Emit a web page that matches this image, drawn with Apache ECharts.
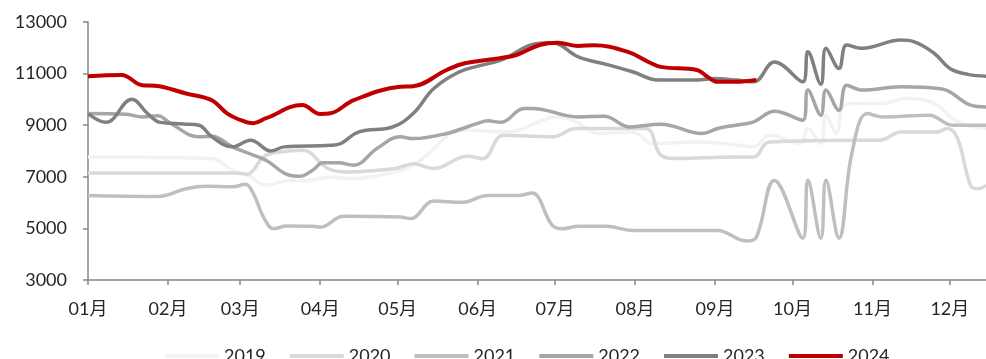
<!DOCTYPE html>
<html>
<head>
<meta charset="utf-8">
<script src="https://cdn.jsdelivr.net/npm/echarts@6/dist/echarts.min.js"></script>
<style>
  html, body { margin: 0; padding: 0; background: #fff; }
  #chart { width: 986px; height: 359px; }
</style>
</head>
<body>
<div id="chart"></div>
<script>
// Seasonal comparison: one line per year on a shared Jan–Dec axis (dates as MM-DD).
const years = ['2019', '2020', '2021', '2022', '2023', '2024'];
const yTicks = { min: 3000, max: 13000, step: 2000 };

const s2019 = [
  ['01-01', 7770], ['02-18', 7710], ['02-26', 7250], ['03-04', 7060], ['03-11', 6670],
  ['03-20', 6860], ['03-27', 6860], ['04-05', 6990], ['04-12', 6930], ['04-30', 7190],
  ['05-08', 7510], ['05-27', 8810], ['06-12', 8740], ['06-28', 9260], ['06-30', 9320],
  ['07-08', 9190], ['07-18', 8680], ['07-31', 8740], ['08-08', 8290], ['08-25', 8350],
  ['09-08', 8250], ['09-16', 8160], ['09-22', 8610], ['10-04', 8290], ['10-07', 8870],
  ['10-12', 8290], ['10-14', 9390], ['10-18', 8680], ['10-21', 9780], ['10-27', 9840],
  ['11-05', 9840], ['11-14', 10040], ['11-25', 9840], ['12-04', 9130], ['12-15', 8870]
];
const s2020 = [
  ['01-01', 7150], ['02-26', 7150], ['03-04', 7100], ['03-06', 7250], ['03-10', 7770],
  ['03-14', 7930], ['03-25', 8030], ['04-04', 7320], ['04-11', 7190], ['04-30', 7320],
  ['05-07', 7510], ['05-15', 7320], ['05-28', 7800], ['06-03', 7700], ['06-11', 8610],
  ['06-30', 8550], ['07-09', 8870], ['08-05', 8870], ['08-11', 7840], ['08-17', 7710],
  ['09-08', 7770], ['09-16', 7770], ['09-22', 8350], ['10-27', 8420], ['11-04', 8420],
  ['11-12', 8740], ['11-26', 8740], ['11-30', 8870], ['12-04', 8480], ['12-09', 6670],
  ['12-12', 6540], ['12-15', 6670]
];
const s2021 = [
  ['01-01', 6280], ['01-28', 6240], ['02-08', 6540], ['02-16', 6630], ['02-26', 6610],
  ['03-03', 6710], ['03-06', 6370], ['03-10', 5440], ['03-14', 4990], ['03-19', 5090],
  ['03-29', 5080], ['04-01', 5050], ['04-10', 5470], ['05-02', 5440], ['05-06', 5380],
  ['05-15', 6060], ['05-26', 6010], ['06-05', 6280], ['06-17', 6280], ['06-22', 6370],
  ['06-30', 5110], ['07-04', 4990], ['07-10', 5080], ['07-21', 5080], ['07-31', 4920],
  ['09-02', 4920], ['09-13', 4510], ['09-17', 4660], ['09-24', 6860], ['10-05', 4620],
  ['10-07', 6870], ['10-12', 4620], ['10-14', 6870], ['10-19', 4620], ['10-24', 7900],
  ['10-30', 9450], ['11-05', 9320], ['11-23', 9390], ['12-02', 9000], ['12-15', 9000]
];
const s2022 = [
  ['01-01', 9450], ['01-16', 9420], ['01-22', 9320], ['01-28', 9370], ['02-02', 9070],
  ['02-13', 8550], ['02-18', 8570], ['02-26', 8160], ['03-06', 7840], ['03-11', 7640],
  ['03-20', 7060], ['03-24', 7020], ['03-29', 7250], ['04-02', 7540], ['04-08', 7540],
  ['04-14', 7450], ['04-23', 8100], ['05-02', 8550], ['05-07', 8480], ['05-20', 8680],
  ['06-01', 9070], ['06-05', 9170], ['06-10', 9110], ['06-19', 9650], ['06-22', 9650],
  ['07-10', 9320], ['07-20', 9350], ['07-30', 8930], ['08-11', 9040], ['08-27', 8680],
  ['09-02', 8870], ['09-09', 9000], ['09-16', 9130], ['09-24', 9540], ['10-05', 9190],
  ['10-07', 10360], ['10-12', 9390], ['10-14', 10360], ['10-19', 9580], ['10-22', 10550],
  ['10-28', 10360], ['11-12', 10490], ['11-28', 10400], ['12-09', 9780], ['12-15', 9710]
];
const s2023 = [
  ['01-01', 9450], ['01-08', 9110], ['01-18', 10010], ['01-24', 9460], ['01-29', 9110],
  ['02-07', 9050], ['02-13', 9000], ['02-18', 8550], ['02-26', 8160], ['03-05', 8420],
  ['03-13', 8000], ['03-18', 8160], ['04-05', 8220], ['04-09', 8290], ['04-16', 8740],
  ['04-29', 8930], ['05-07', 9450], ['05-15', 10420], ['05-25', 11070], ['06-01', 11290],
  ['06-10', 11520], ['06-24', 12170], ['06-30', 12200], ['07-10', 11650], ['07-22', 11330],
  ['07-31', 11070], ['08-10', 10750], ['08-25', 10750], ['09-01', 10810], ['09-09', 10750],
  ['09-16', 10680], ['09-24', 11450], ['10-05', 10680], ['10-07', 11850], ['10-12', 10590],
  ['10-14', 11980], ['10-19', 11200], ['10-22', 12110], ['10-28', 11980], ['11-12', 12300],
  ['11-17', 12240], ['11-25', 11780], ['12-01', 11200], ['12-08', 10970], ['12-15', 10900]
];
const s2024 = [
  ['01-01', 10900], ['01-14', 10950], ['01-22', 10550], ['01-27', 10530], ['02-08', 10230],
  ['02-18', 9970], ['02-24', 9450], ['03-03', 9130], ['03-06', 9080], ['03-11', 9270],
  ['03-25', 9780], ['04-01', 9430], ['04-05', 9460], ['04-14', 9970], ['05-02', 10490],
  ['05-07', 10510], ['05-20', 11140], ['05-27', 11400], ['06-09', 11590], ['06-16', 11720],
  ['06-25', 12110], ['07-02', 12200], ['07-10', 12070], ['07-16', 12100], ['07-29', 11850],
  ['08-06', 11460], ['08-11', 11260], ['08-25', 11140], ['08-29', 10880], ['09-02', 10680],
  ['09-09', 10680], ['09-17', 10750]
];

const seriesValues = [s2019, s2020, s2021, s2022, s2023, s2024];
const colors = ['#f2f2f2', '#d9d9d9', '#bfbfbf', '#a6a6a6', '#808080', '#c00000'];

// All years share one reference calendar year so they overlay on the same axis.
const baseYear = '2023';
const toDate = md => baseYear + '-' + md;

const font = 'Lato, "Noto Sans", "Noto Sans CJK SC", sans-serif';
const textColor = '#262626';
const axisColor = '#868686';

const chart = echarts.init(document.getElementById('chart'), null, { renderer: 'canvas' });

chart.setOption({
  animation: false,
  color: colors,
  grid: { left: 88, right: 0, top: 22, bottom: 79, containLabel: false },
  legend: {
    left: 160,
    top: 342,
    itemWidth: 54,
    itemHeight: 4,
    itemGap: 24,
    icon: 'rect',
    textStyle: { fontFamily: font, fontSize: 18, color: textColor },
    data: years
  },
  xAxis: {
    type: 'time',
    min: toDate('01-01'),
    max: toDate('12-15'),
    minInterval: 28 * 86400000,
    maxInterval: 31 * 86400000,
    splitLine: { show: false },
    axisLine: { lineStyle: { color: axisColor, width: 1.5 } },
    axisTick: { show: true, length: 5, lineStyle: { color: axisColor, width: 1.5 } },
    axisLabel: {
      margin: 20,
      fontFamily: font,
      fontSize: 18,
      color: textColor,
      showMaxLabel: false,
      hideOverlap: false,
      formatter: function (v) {
        const d = new Date(v);
        return String(d.getMonth() + 1).padStart(2, '0') + '月';
      }
    }
  },
  yAxis: {
    type: 'value',
    min: yTicks.min,
    max: yTicks.max,
    interval: yTicks.step,
    splitLine: { show: false },
    axisLine: { show: true, lineStyle: { color: axisColor, width: 1.5 } },
    axisTick: { show: true, length: 5, lineStyle: { color: axisColor, width: 1.5 } },
    axisLabel: {
      margin: 21,
      fontFamily: font,
      fontSize: 18,
      color: textColor,
      formatter: v => String(v)
    }
  },
  series: years.map((name, i) => ({
    name: name,
    type: 'line',
    smooth: 0.4,
    showSymbol: false,
    symbol: 'none',
    lineStyle: { width: i === 5 ? 4 : 3.5, color: colors[i] },
    data: seriesValues[i].map(p => [toDate(p[0]), p[1]])
  }))
});
</script>
</body>
</html>
